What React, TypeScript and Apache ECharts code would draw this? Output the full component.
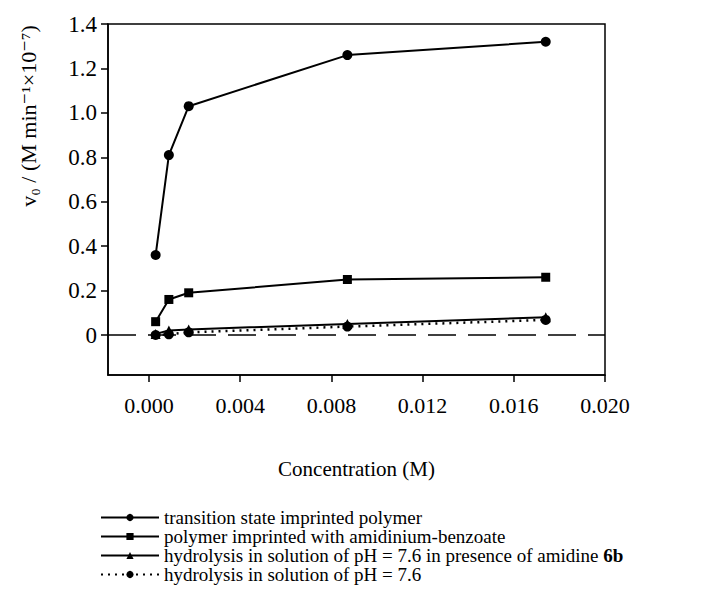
import React, { useEffect, useRef } from "react";
import * as echarts from "echarts";

const concentrations = [0.00029, 0.00087, 0.00174, 0.0087, 0.0174];
const tsPolymer = [0.36, 0.81, 1.03, 1.26, 1.32];
const amidiniumBenzoate = [0.06, 0.16, 0.19, 0.25, 0.26];
const amidineSolution = [0.005, 0.02, 0.025, 0.05, 0.08];
const bufferSolution = [0.0, 0.003, 0.012, 0.038, 0.068];

const xTicks = [0, 0.004, 0.008, 0.012, 0.016, 0.02];
const yTicks = [0, 0.2, 0.4, 0.6, 0.8, 1.0, 1.2, 1.4];

const seriesNames = [
  "transition state imprinted polymer",
  "polymer imprinted with amidinium-benzoate",
  "hydrolysis in solution of pH = 7.6 in presence of amidine 6b",
  "hydrolysis in solution of pH = 7.6",
];

const FONT = '"Liberation Serif", "DejaVu Serif", serif';

function pairs(ys: number[]) {
  return concentrations.map((x, i) => [x, ys[i]]);
}

export default function App() {
  const ref = useRef<HTMLDivElement>(null);
  useEffect(() => {
    document.body.style.margin = "0";
    const chart = echarts.init(ref.current!, null, { renderer: "svg" });
    const lineBase = {
      type: "line" as const,
      color: "#000",
      lineStyle: { color: "#000", width: 2 },
      itemStyle: { color: "#000" },
    };
    chart.setOption({
      animation: false,
      backgroundColor: "#fff",
      textStyle: { fontFamily: FONT, color: "#000" },
      grid: {
        left: 108,
        right: 99,
        top: 24,
        bottom: 223,
        show: true,
        borderColor: "#000",
        borderWidth: 1.5,
        backgroundColor: "transparent",
      },
      xAxis: {
        type: "value",
        min: -0.0018,
        max: 0.02,
        name: "Concentration (M)",
        nameLocation: "middle",
        nameGap: 83,
        nameTextStyle: { fontFamily: FONT, fontSize: 21, color: "#000" },
        axisLine: { show: true, onZero: false, lineStyle: { color: "#000", width: 1.5 } },
        axisTick: { show: true, length: 7, inside: false, customValues: xTicks, lineStyle: { color: "#000", width: 1.5 } },
        axisLabel: {
          customValues: xTicks,
          fontFamily: FONT,
          fontSize: 22,
          color: "#000",
          margin: 19,
          formatter: (v: number) => v.toFixed(3),
        },
        splitLine: { show: false },
      },
      yAxis: {
        type: "value",
        min: -0.18,
        max: 1.4,
        axisLine: { show: true, onZero: false, lineStyle: { color: "#000", width: 1.5 } },
        axisTick: { show: true, length: 7, inside: false, customValues: yTicks, lineStyle: { color: "#000", width: 1.5 } },
        axisLabel: {
          customValues: yTicks,
          fontFamily: FONT,
          fontSize: 23,
          color: "#000",
          margin: 11,
          formatter: (v: number) => (Math.abs(v) < 1e-9 ? "0" : v.toFixed(1)),
        },
        splitLine: { show: false },
      },
      legend: {
        orient: "vertical",
        left: 100,
        top: 508,
        itemWidth: 58,
        itemHeight: 9,
        itemGap: 0,
        padding: 0,
        data: seriesNames,
        textStyle: {
          fontFamily: FONT,
          fontSize: 19,
          color: "#000",
          lineHeight: 19,
          rich: {
            b: { fontFamily: FONT, fontSize: 19, fontWeight: "bold", color: "#000", lineHeight: 19 },
          },
        },
        formatter: (name: string) => name.replace(/ 6b$/, " {b|6b}"),
      },
      graphic: [
        {
          type: "text",
          x: 28,
          y: 116,
          rotation: Math.PI / 2,
          style: {
            text: "v₀ / (M min⁻¹×10⁻⁷)",
            fontFamily: FONT,
            fontSize: 22,
            fill: "#000",
            align: "center",
            verticalAlign: "middle",
          },
        },
      ],
      series: [
        {
          ...lineBase,
          name: seriesNames[0],
          data: pairs(tsPolymer),
          symbol: "circle",
          symbolSize: 10,
          z: 5,
        },
        {
          ...lineBase,
          name: seriesNames[1],
          data: pairs(amidiniumBenzoate),
          symbol: "rect",
          symbolSize: 9,
          z: 5,
        },
        {
          ...lineBase,
          name: seriesNames[2],
          data: pairs(amidineSolution),
          symbol: "triangle",
          symbolSize: 10,
          z: 5,
          markLine: {
            silent: true,
            symbol: "none",
            label: { show: false },
            lineStyle: { color: "#000", width: 1.5, type: [28, 12] },
            data: [{ yAxis: 0 }],
          },
        },
        {
          ...lineBase,
          name: seriesNames[3],
          data: pairs(bufferSolution),
          symbol: "circle",
          symbolSize: 10,
          lineStyle: { color: "#000", width: 2.5, type: [2, 5] },
          z: 4,
        },
      ],
    });
    return () => chart.dispose();
  }, []);
  return <div ref={ref} style={{ width: 704, height: 598 }} />;
}
